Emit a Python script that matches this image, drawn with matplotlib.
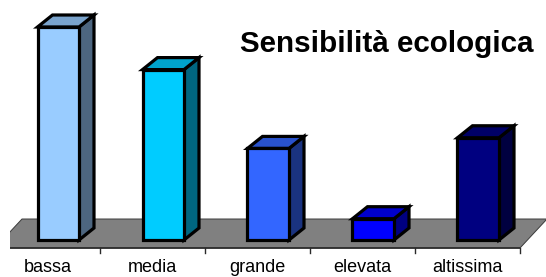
import matplotlib
matplotlib.use("Agg")
import matplotlib.pyplot as plt
from matplotlib.patches import Polygon, Rectangle

categories = ["bassa", "media", "grande", "elevata", "altissima"]
values = [100, 80, 43, 10, 48]
front_colors = ["#99CCFF", "#00CCFF", "#3366FF", "#0000FF", "#000080"]
title = "Sensibilità ecologica"

W, H, DPI = 546, 277, 100
PX_X = 105.0          # pixels per category
PX_Y = 2.13           # pixels per value unit
X0_PX = 47.5          # pixel x of first category center
Y0_PX = 240.0         # pixel y of value 0

fig = plt.figure(figsize=(W / DPI, H / DPI), dpi=DPI)
ax = fig.add_axes([0, 0, 1, 1])
ax.set_xlim(-X0_PX / PX_X, (W - X0_PX) / PX_X)
ax.set_ylim(-(H - Y0_PX) / PX_Y, Y0_PX / PX_Y)
ax.axis("off")


def shade(c, f):
    r, g, b = matplotlib.colors.to_rgb(c)
    return (r * f, g * f, b * f)


n = len(categories)
# floor
f_front = -8 / PX_Y
f_back = 21 / PX_Y
f_dx = 27 / PX_X
floor = Polygon([(-0.5, f_front), (-0.5 + f_dx, f_back), (n - 0.5 + f_dx, f_back), (n - 0.5, f_front)],
                closed=True, facecolor="#808080", edgecolor="#3a3a3a", lw=0.7, zorder=1)
ax.add_patch(floor)
clip = Rectangle((-37.5 / PX_X, -50), 10, 200, transform=ax.transData, visible=False)
ax.add_patch(clip)
floor.set_clip_path(clip)
ax.plot([-37.5 / PX_X, n - 0.5], [f_front, f_front], color="#2a2a2a", lw=1.2, zorder=2,
        solid_capstyle="butt")
for i in range(n):
    ax.plot([i + 0.5, i + 0.5], [f_front, f_front - 5 / PX_Y], color="#2a2a2a", lw=1, zorder=2)

# bars
bx0, bx1 = -10 / PX_X, 31.5 / PX_X
ddx, ddy = 15 / PX_X, 12 / PX_Y
lw = 2.3
for i, (v, c) in enumerate(zip(values, front_colors)):
    x0, x1 = i + bx0, i + bx1
    kw = dict(closed=True, edgecolor="black", lw=lw, joinstyle="miter", zorder=3)
    ax.add_patch(Polygon([(x1, 0), (x1 + ddx, ddy), (x1 + ddx, v + ddy), (x1, v)],
                         facecolor=shade(c, 0.5), **kw))
    ax.add_patch(Polygon([(x0, v), (x0 + ddx, v + ddy), (x1 + ddx, v + ddy), (x1, v)],
                         facecolor=shade(c, 0.8), **kw))
    ax.add_patch(Polygon([(x0, 0), (x1, 0), (x1, v), (x0, v)], facecolor=c, **kw))

# category labels
for i, lab in enumerate(categories):
    ax.text(i, -(272.5 - Y0_PX) / PX_Y, lab, ha="center", va="baseline",
            fontsize=13, family="Liberation Sans", color="black")

fig.text(240 / W, 1 - 52 / H, title, ha="left", va="baseline", fontsize=21.3,
         fontweight="bold", family="Liberation Sans", color="black")

fig.savefig("out.png", dpi=DPI)
